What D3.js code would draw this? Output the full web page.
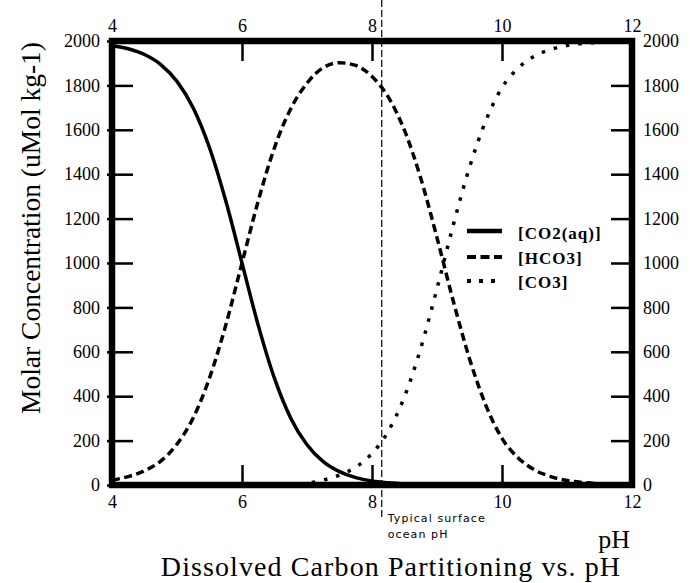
<!DOCTYPE html>
<html><head><meta charset="utf-8">
<script src="https://cdn.jsdelivr.net/npm/d3@7"></script>
<style>
html,body{margin:0;padding:0;background:#fff;}
svg{display:block;}
text{font-family:"Liberation Serif","Times New Roman",serif;fill:#000;}
</style></head>
<body>
<svg id="c" width="690" height="583"></svg>
<script>
const pH = [4,4.25,4.5,4.75,5,5.25,5.5,5.75,6,6.25,6.5,6.75,7,7.25,7.5,7.75,8,8.25,8.5,8.75,9,9.25,9.5,9.75,10,10.25,10.5,10.75,11,11.25,11.5,11.75,12];
const co2 = [1980,1965,1939,1894,1818,1698,1519,1280,1000,719,480,301,181,105,60,33,18,10,5,2,1,0,0,0,0,0,0,0,0,0,0,0,0];
const hco3 = [22,38,64,108,184,303,482,720,1000,1280,1520,1695,1810,1880,1902,1890,1840,1748,1597,1382,1114,829,569,360,210,122,68,38,20,11,6,3,2];
const co3 = [0,0,0,0,0,0,0,0,0,0,0,0,8,22,45,80,142,242,398,616,885,1171,1431,1640,1790,1878,1932,1962,1980,1989,1994,1997,1998];
const seriesNames = ["[CO2(aq)]","[HCO3]","[CO3]"];
const xTicks = [4,6,8,10,12];
const yTicks = [0,200,400,600,800,1000,1200,1400,1600,1800,2000];
const surfacePH = 8.15;
const titleText = "Dissolved Carbon Partitioning vs. pH";
const yTitle = "Molar Concentration (uMol kg-1)";
const xTitle = "pH";
const noteLines = ["Typical surface","ocean pH"];

const SERIF = "'Liberation Serif','Times New Roman',serif";
const svg = d3.select("#c");
const L=112,R=632,T=41,B=485;
const x = d3.scaleLinear().domain([4,12]).range([L,R]);
const y = d3.scaleLinear().domain([0,2000]).range([B,T]);

// curves
const styles = [
  {data:co2, dash:null, w:3.5},
  {data:hco3, dash:"8,4.5", w:3.5},
  {data:co3, dash:"3.5,9", w:3.5}
];
const line = d3.line().x((d,i)=>x(pH[i])).y(d=>y(d)).curve(d3.curveMonotoneX);
styles.forEach(s=>{
  svg.append("path").attr("d",line(s.data)).attr("fill","none")
    .attr("stroke","#000").attr("stroke-width",s.w)
    .attr("stroke-dasharray",s.dash);
});

// surface pH marker
svg.append("line").attr("x1",x(surfacePH)).attr("x2",x(surfacePH))
  .attr("y1",0).attr("y2",517).attr("stroke","#000").attr("stroke-width",1.2)
  .attr("stroke-dasharray","7,3");
const note = svg.append("text").attr("x",x(surfacePH)+6).attr("y",522)
  .attr("font-family","'DejaVu Sans',sans-serif").style("font-family","'DejaVu Sans',sans-serif")
  .style("font-size","11px").style("letter-spacing","1.1px");
noteLines.forEach((t,i)=>note.append("tspan").attr("x",x(surfacePH)+6).attr("dy",i?16:0).text(t));

// axes
function style(g){
  g.attr("font-family",SERIF).attr("font-size",18);
  g.select(".domain").remove();
  g.selectAll(".tick line").attr("stroke","#000").attr("stroke-width",2.5);
  g.selectAll(".tick text").style("font-size","18px").style("font-family",SERIF);
}
svg.append("g").attr("transform",`translate(${L},0)`)
  .call(d3.axisLeft(y).tickValues(yTicks).tickFormat(d3.format("d")).tickSizeInner(-21).tickSizeOuter(0).tickPadding(12))
  .call(style).call(g=>g.selectAll(".tick line").attr("x1",-5));
svg.append("g").attr("transform",`translate(${R},0)`)
  .call(d3.axisRight(y).tickValues(yTicks).tickFormat(d3.format("d")).tickSizeInner(-21).tickSizeOuter(0).tickPadding(11))
  .call(style).call(g=>g.selectAll(".tick line").attr("x1",2));
svg.append("g").attr("transform",`translate(0,${B})`)
  .call(d3.axisBottom(x).tickValues(xTicks).tickSizeInner(-20).tickSizeOuter(0).tickPadding(10))
  .call(style);
svg.append("g").attr("transform",`translate(0,${T})`)
  .call(d3.axisTop(x).tickValues(xTicks).tickSizeInner(-20).tickSizeOuter(0).tickPadding(9))
  .call(style);

// frame
svg.append("rect").attr("x",L).attr("y",T).attr("width",R-L).attr("height",B-T)
  .attr("fill","none").attr("stroke","#000").attr("stroke-width",6.5);

// legend
const leg = svg.append("g");
const legY = [231,257,281];
const legText = [239,264,288];
styles.forEach((s,i)=>{
  leg.append("line").attr("x1",467).attr("x2",502).attr("y1",legY[i]).attr("y2",legY[i])
    .attr("stroke","#000").attr("stroke-width",i==0?4.5:3.8)
    .attr("stroke-dasharray",i==0?null:(i==1?"9,4.5":"4,8"));
  leg.append("text").attr("x",518).attr("y",legText[i]).text(seriesNames[i])
    .style("font-family",SERIF).style("font-size","17px").style("font-weight","bold").style("letter-spacing","1px");
});

// titles
svg.append("text").attr("transform",`translate(40,228) rotate(-90)`).attr("text-anchor","middle")
  .style("font-family",SERIF).style("font-size","27.5px").text(yTitle);
svg.append("text").attr("x",630).attr("y",548).attr("text-anchor","end")
  .style("font-family",SERIF).style("font-size","26px").text(xTitle);
svg.append("text").attr("x",391).attr("y",576).attr("text-anchor","middle")
  .style("font-family",SERIF).style("font-size","28px").style("letter-spacing","1.1px").text(titleText);
</script>
</body></html>
